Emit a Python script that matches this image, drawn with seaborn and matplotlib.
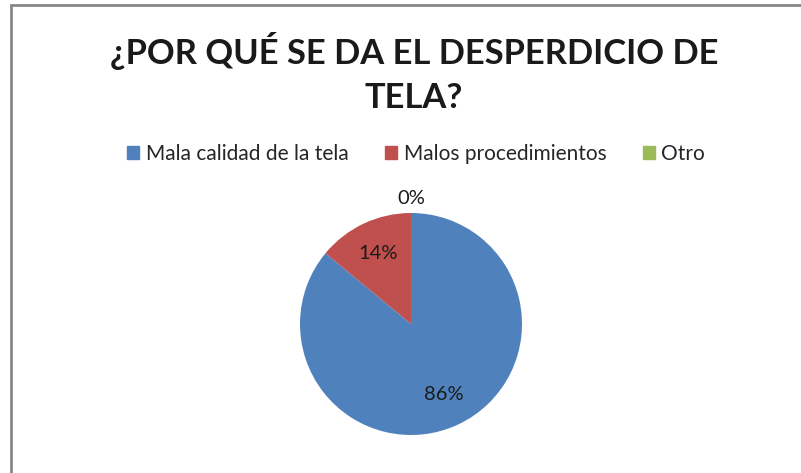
import numpy as np
import matplotlib
matplotlib.use("Agg")
import matplotlib.pyplot as plt
import matplotlib.patches as mpatches
import seaborn as sns

# data
categorias = ["Mala calidad de la tela", "Malos procedimientos", "Otro"]
valores = [86, 14, 0]
colores = ["#4F81BD", "#C0504D", "#9BBB59"]
titulo = "¿POR QUÉ SE DA EL DESPERDICIO DE\nTELA?"

sns.set_theme(style="white")
plt.rcParams["font.family"] = ["Lato", "DejaVu Sans"]

W, H = 801, 473
fig = plt.figure(figsize=(W / 100, H / 100), dpi=100)
fig.patch.set_facecolor("white")

# chart area border (only top and left edges visible in the crop)
borde = mpatches.Rectangle((10.5 / W, -0.2), 1.5, 1.2 - 5 / H,
                           transform=fig.transFigure, fill=False,
                           edgecolor="#878787", linewidth=2, clip_on=False)
fig.patches.append(borde)

fig.text(414 / W, 1 - 73 / H, titulo, ha="center", va="center",
         fontsize=24.8, fontweight="bold", color="#1a1a1a", linespacing=1.45)

# pie axes: centre ~ (411, 324) px, radius ~ 111 px
cx, cy, r = 411, 324, 111
ax = fig.add_axes([(cx - r) / W, (H - cy - r) / H, 2 * r / W, 2 * r / H])

def fmt(p):
    return f"{p:.0f}%" if p > 0.5 else ""

wedges, texts, autotexts = ax.pie(valores, colors=colores, startangle=90,
                                  counterclock=False, autopct=fmt,
                                  pctdistance=0.70, radius=1,
                                  wedgeprops=dict(edgecolor="none"),
                                  textprops=dict(fontsize=14.5, color="#1a1a1a"))
ax.set_xlim(-1, 1)
ax.set_ylim(-1, 1)

# zero slices get their label outside the pie
for w, v in zip(wedges, valores):
    if v == 0:
        ang = np.deg2rad((w.theta1 + w.theta2) / 2)
        ax.text(1.13 * np.cos(ang), 1.13 * np.sin(ang), f"{v}%",
                ha="center", va="center", fontsize=14.5, color="#1a1a1a",
                clip_on=False)

handles = [mpatches.Patch(color=c, label=l) for c, l in zip(colores, categorias)]
fig.legend(handles=handles, loc="center", bbox_to_anchor=(416 / W, 1 - 154 / H),
           ncol=3, frameon=False, fontsize=15, handlelength=0.6,
           handleheight=0.6, handletextpad=0.3, columnspacing=1.75)

fig.savefig("out.png", dpi=100, facecolor="white")
